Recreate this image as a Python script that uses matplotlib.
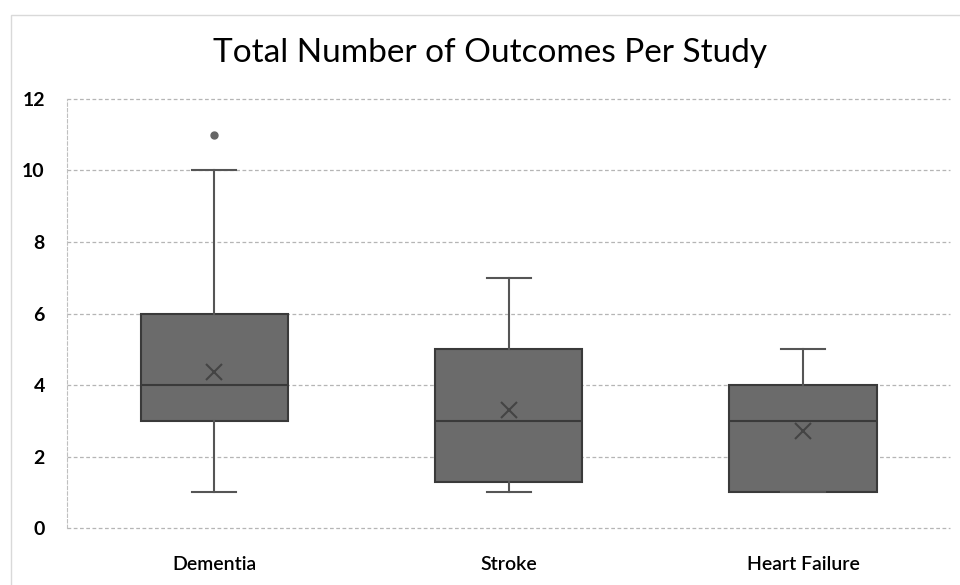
import matplotlib
matplotlib.use('Agg')
import matplotlib.pyplot as plt
from matplotlib.patches import Rectangle

categories = ['Dementia', 'Stroke', 'Heart Failure']
q1 = [3, 1.3, 1]
med = [4, 3, 3]
q3 = [6, 5, 4]
whislo = [1, 1, 1]
whishi = [10, 7, 5]
means = [4.35, 3.3, 2.72]
fliers = [[11], [], []]

plt.rcParams['font.family'] = ['Lato', 'DejaVu Sans']

fig = plt.figure(figsize=(9.6, 5.85), dpi=100)
fig.patches.append(Rectangle((0.011, -0.01), 1.0, 0.985, transform=fig.transFigure,
                             fill=False, edgecolor='#d9d9d9', linewidth=1.0))
ax = fig.add_axes([0.0698, 0.0974, 0.92, 0.7334])

stats = []
for i in range(len(categories)):
    stats.append({'label': categories[i], 'q1': q1[i], 'med': med[i], 'q3': q3[i],
                  'whislo': whislo[i], 'whishi': whishi[i], 'mean': means[i],
                  'fliers': fliers[i]})

ax.bxp(stats, positions=range(len(categories)), widths=0.5, patch_artist=True,
       showmeans=True, showfliers=True,
       boxprops=dict(facecolor='#6b6b6b', edgecolor='#3a3a3a', linewidth=1.5),
       medianprops=dict(color='#3a3a3a', linewidth=1.5),
       whiskerprops=dict(color='#555555', linewidth=1.5),
       capprops=dict(color='#555555', linewidth=1.5),
       capwidths=0.15,
       meanprops=dict(marker='x', markeredgecolor='#444444', markersize=11, markeredgewidth=1.5),
       flierprops=dict(marker='o', markerfacecolor='#666666', markeredgecolor='#666666', markersize=5),
       zorder=3)

ax.set_xlim(-0.5, 2.5)
ax.set_ylim(0, 12)
ax.set_yticks(range(0, 13, 2))
ax.yaxis.grid(True, linestyle=(0, (3, 2)), color='#b5b5b5', linewidth=0.9, zorder=0)
for gl in ax.get_ygridlines():
    gl.set_clip_on(False)
ax.set_axisbelow(True)
for s in ['top', 'right', 'bottom']:
    ax.spines[s].set_visible(False)
ax.spines['left'].set_linestyle((0, (3, 2)))
ax.spines['left'].set_color('#bfbfbf')
ax.tick_params(axis='y', length=0, labelsize=14, pad=16)
ax.tick_params(axis='x', length=0, labelsize=14, pad=20)
for t in ax.get_yticklabels():
    t.set_fontweight('bold')
for t in ax.get_xticklabels():
    t.set_fontweight('semibold')

fig.text(0.51, 0.91, 'Total Number of Outcomes Per Study', ha='center', va='center', fontsize=24)

fig.savefig('out.png', dpi=100)
